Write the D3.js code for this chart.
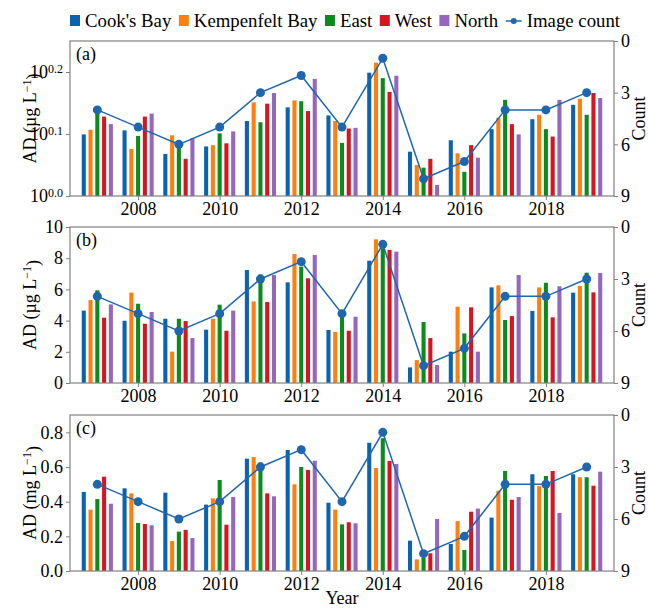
<!DOCTYPE html>
<html><head><meta charset="utf-8">
<script src="https://cdn.jsdelivr.net/npm/d3@7"></script>
<style>
body{margin:0;background:#fff;}
</style></head>
<body><svg id="chart" width="648" height="609"></svg>
<script>
const years = [2007,2008,2009,2010,2011,2012,2013,2014,2015,2016,2017,2018,2019];
const seriesNames = ["Cook's Bay","Kempenfelt Bay","East","West","North"];
const seriesColors = ["#0a63ae","#ff7f0e","#0a8c1c","#d7141f","#9467bd"];
const imageCount = [4,5,6,5,3,2,5,1,8,7,4,4,3];

// Panel (a): AD (µg/L), log scale
const adA_cooks = [1.257,1.276,1.169,1.202,1.321,1.390,1.349,1.581,1.179,1.230,1.282,1.330,1.403];
const adA_kemp  = [1.279,1.191,1.253,1.208,1.416,1.426,1.321,1.641,1.122,1.172,1.337,1.352,1.435];
const adA_east  = [1.377,1.250,1.216,1.262,1.315,1.422,1.218,1.549,1.111,1.094,1.429,1.282,1.352];
const adA_west  = [1.343,1.343,1.148,1.216,1.409,1.371,1.285,1.472,1.148,1.208,1.306,1.247,1.466];
const adA_north = [1.306,1.358,1.239,1.271,1.466,1.545,1.288,1.563,1.042,1.153,1.257,1.429,1.439];

// Panel (b): AD (µg/L)
const adB_cooks = [4.64,3.99,4.12,3.42,7.24,6.45,3.40,7.84,1.00,2.01,6.13,4.62,5.79];
const adB_kemp  = [5.32,5.79,2.01,4.12,5.23,8.27,3.27,9.21,1.47,4.89,6.26,6.13,6.22];
const adB_east  = [5.94,5.08,4.12,5.02,6.96,7.46,4.30,8.63,3.91,3.18,4.04,6.43,7.07];
const adB_west  = [4.19,3.80,3.97,3.35,5.19,6.71,3.35,8.53,2.88,4.85,4.29,4.21,5.81];
const adB_north = [5.04,4.55,2.88,4.64,6.92,8.21,4.25,8.42,1.15,2.01,6.92,6.20,7.05];

// Panel (c): AD (mg/L)
const adC_cooks = [0.456,0.477,0.452,0.383,0.648,0.698,0.394,0.740,0.175,0.156,0.308,0.558,0.558];
const adC_kemp  = [0.354,0.448,0.173,0.419,0.658,0.500,0.354,0.594,0.067,0.288,0.463,0.490,0.541];
const adC_east  = [0.415,0.277,0.227,0.525,0.627,0.600,0.269,0.766,0.075,0.121,0.577,0.548,0.541];
const adC_west  = [0.544,0.271,0.237,0.267,0.448,0.583,0.281,0.635,0.102,0.342,0.411,0.577,0.492];
const adC_north = [0.388,0.264,0.190,0.427,0.431,0.636,0.275,0.617,0.300,0.360,0.427,0.335,0.573];

const xTicks = [2008,2010,2012,2014,2016,2018];
const countTicks = [0,3,6,9];
const panelLetters = ["(a)","(b)","(c)"];

const FONT = '"Liberation Serif", "Times New Roman", serif';
const svg = d3.select("#chart");
const left = 70, right = 614;
const frameColor = "#808080";
const lineColor = "#1f67ad";
const x = d3.scaleLinear().domain([2006.33, 2019.67]).range([left, right]);
const barW = x(2007.1) - x(2007);
const offStep = 0.166;

const panels = [
  {top:41, bottom:196, series:[adA_cooks,adA_kemp,adA_east,adA_west,adA_north], log:true,
   domain:[1, Math.pow(10,0.25)], ticks:[1, Math.pow(10,0.1), Math.pow(10,0.2)], tickLab:["0.0","0.1","0.2"], unit:"µg"},
  {top:227, bottom:383, series:[adB_cooks,adB_kemp,adB_east,adB_west,adB_north], log:false,
   domain:[0,10], ticks:[0,2,4,6,8,10], unit:"µg"},
  {top:415, bottom:571, series:[adC_cooks,adC_kemp,adC_east,adC_west,adC_north], log:false,
   domain:[0,0.9], ticks:[0,0.2,0.4,0.6,0.8], unit:"mg", fmt:d3.format(".1f")}
];

panels.forEach((p, pi) => {
  const y = p.log ? d3.scaleLog().domain(p.domain).range([p.bottom, p.top])
                  : d3.scaleLinear().domain(p.domain).range([p.bottom, p.top]);
  const yc = d3.scaleLinear().domain([0,9]).range([p.top, p.bottom]);
  const g = svg.append("g");

  p.series.forEach((vals, si) => {
    g.selectAll(null).data(vals).enter().append("rect")
      .attr("x", (d,i) => x(years[i] + (si-2)*offStep) - barW/2)
      .attr("width", barW)
      .attr("y", d => y(d))
      .attr("height", d => p.bottom - y(d))
      .attr("fill", seriesColors[si]);
  });

  const line = d3.line().x((d,i) => x(years[i])).y(d => yc(d));
  g.append("path").datum(imageCount).attr("d", line)
    .attr("fill","none").attr("stroke",lineColor).attr("stroke-width",1.5);
  g.selectAll(null).data(imageCount).enter().append("circle")
    .attr("cx",(d,i)=>x(years[i])).attr("cy",d=>yc(d)).attr("r",4.5).attr("fill",lineColor);

  g.append("rect").attr("x",left).attr("y",p.top).attr("width",right-left).attr("height",p.bottom-p.top)
    .attr("fill","none").attr("stroke",frameColor).attr("stroke-width",1.2);

  const xa = g.append("g").attr("transform",`translate(0,${p.bottom})`)
    .call(d3.axisBottom(x).tickValues(xTicks).tickFormat(d3.format("d")).tickSize(4).tickPadding(2));
  xa.select(".domain").remove();
  xa.selectAll("line").attr("stroke",frameColor);
  xa.selectAll("text").style("font-size","18px").attr("fill","#000");

  const ya = g.append("g").attr("transform",`translate(${left},0)`)
    .call(d3.axisLeft(y).tickValues(p.ticks).tickSize(4).tickPadding(3)
      .tickFormat(p.log ? (()=>"") : (p.fmt || d3.format("d"))));
  ya.select(".domain").remove();
  ya.selectAll("line").attr("stroke",frameColor);
  ya.selectAll("text").style("font-size","18px").attr("fill","#000");
  if (p.log) {
    ya.selectAll(".tick text").each(function(d,i){
      const t = d3.select(this).text(null);
      t.append("tspan").text("10");
      t.append("tspan").attr("dy","-0.45em").style("font-size","12px").text(p.tickLab[i]);
    });
  }

  const ra = g.append("g").attr("transform",`translate(${right},0)`)
    .call(d3.axisRight(yc).tickValues(countTicks).tickSize(4).tickPadding(3));
  ra.select(".domain").remove();
  ra.selectAll("line").attr("stroke",frameColor);
  ra.selectAll("text").style("font-size","18px").attr("fill","#000");

  const cy = (p.top + p.bottom)/2;
  const yl = g.append("text").attr("transform",`translate(36,${cy}) rotate(-90)`)
    .attr("text-anchor","middle").style("font-size","18px");
  yl.append("tspan").text(`AD (${p.unit} L`);
  yl.append("tspan").attr("dy","-0.45em").style("font-size","12px").text("−1");
  yl.append("tspan").attr("dy","0.45em").text(")");

  g.append("text").attr("transform",`translate(645,${cy}) rotate(-90)`)
    .attr("text-anchor","middle").style("font-size","18px").text("Count");

  g.append("text").attr("x",left+6).attr("y",p.top+19).style("font-size","18px").text(panelLetters[pi]);
});

svg.append("text").attr("x",(left+right)/2).attr("y",604).attr("text-anchor","middle")
  .style("font-size","18px").text("Year");

// legend
const lg = svg.append("g");
let lx = 70;
const ly = 21;
const LFS = "18.8px";
seriesNames.forEach((n, i) => {
  lg.append("rect").attr("x",lx).attr("y",ly-6).attr("width",10).attr("height",11).attr("fill",seriesColors[i]);
  const t = lg.append("text").attr("x",lx+15).attr("y",ly+6).style("font-family",FONT).style("font-size",LFS).text(n);
  lx += 15 + t.node().getComputedTextLength() + 7.5;
});
lg.append("line").attr("x1",lx).attr("x2",lx+16).attr("y1",ly).attr("y2",ly).attr("stroke",lineColor).attr("stroke-width",1.5);
lg.append("circle").attr("cx",lx+8).attr("cy",ly).attr("r",3).attr("fill",lineColor);
lg.append("text").attr("x",lx+21).attr("y",ly+6).style("font-family",FONT).style("font-size",LFS).text("Image count");

svg.selectAll("text").style("font-family", FONT).style("fill","#000");
</script></body></html>
